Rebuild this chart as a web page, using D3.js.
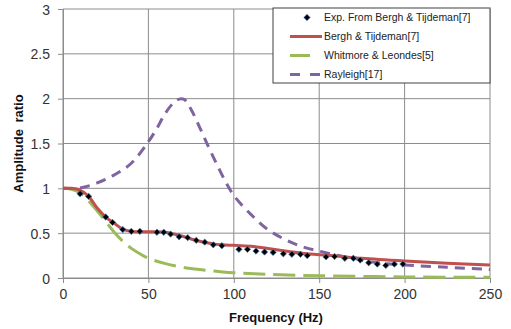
<!DOCTYPE html>
<html>
<head>
<meta charset="utf-8">
<script src="https://cdn.jsdelivr.net/npm/d3@7"></script>
<style>
  body { margin: 0; background: #fff; }
  svg { display: block; font-family: "Liberation Sans", Arial, sans-serif; }
</style>
</head>
<body>
<svg id="chart"></svg>
<script>
// measured points (Bergh & Tijdeman experiment)
const expFreq = [10, 15, 25, 29, 35, 40, 45, 55, 59, 63, 68, 73, 78, 83, 88, 93, 103, 108, 113, 118, 123, 129, 134, 139, 143, 154, 159, 165, 170, 174, 179, 184, 189, 194, 199];
const expAmp = [0.94, 0.91, 0.68, 0.62, 0.54, 0.52, 0.52, 0.51, 0.51, 0.49, 0.46, 0.45, 0.42, 0.40, 0.37, 0.36, 0.32, 0.32, 0.30, 0.29, 0.285, 0.27, 0.265, 0.265, 0.25, 0.235, 0.24, 0.22, 0.22, 0.20, 0.17, 0.155, 0.14, 0.155, 0.155];

const berghFreq = [0, 5, 10, 15, 20, 25, 30, 35, 40, 45, 50, 55, 60, 65, 70, 75, 80, 85, 90, 95, 100, 110, 120, 130, 140, 150, 160, 175, 200, 225, 250];
const berghAmp = [1.0, 1.0, 0.98, 0.91, 0.78, 0.68, 0.61, 0.545, 0.52, 0.515, 0.515, 0.515, 0.51, 0.49, 0.465, 0.435, 0.41, 0.39, 0.375, 0.368, 0.365, 0.355, 0.33, 0.30, 0.275, 0.26, 0.245, 0.22, 0.19, 0.165, 0.145];

const whitFreq = [0, 5, 10, 15, 20, 25, 30, 35, 40, 45, 50, 60, 70, 80, 90, 100, 120, 150, 200, 250];
const whitAmp = [1.0, 0.99, 0.95, 0.86, 0.75, 0.63, 0.51, 0.41, 0.33, 0.27, 0.22, 0.16, 0.12, 0.094, 0.075, 0.058, 0.04, 0.025, 0.012, 0.007];

const rayFreq = [0, 10, 20, 30, 40, 50, 55, 60, 65, 68, 71, 75, 80, 85, 90, 95, 100, 110, 120, 130, 140, 150, 160, 170, 180, 190, 200, 225, 250];
const rayAmp = [1.0, 1.005, 1.06, 1.15, 1.28, 1.52, 1.67, 1.84, 1.96, 1.995, 1.99, 1.88, 1.68, 1.47, 1.27, 1.08, 0.92, 0.71, 0.54, 0.43, 0.35, 0.30, 0.255, 0.22, 0.18, 0.16, 0.145, 0.12, 0.095];

const xTicks = [0, 50, 100, 150, 200, 250];
const yTicks = [0, 0.5, 1, 1.5, 2, 2.5, 3];

const width = 511, height = 329;
const margin = { left: 63, right: 21, top: 9, bottom: 51 };

const svg = d3.select('#chart').attr('width', width).attr('height', height);

const x = d3.scaleLinear().domain([0, 250]).range([margin.left, width - margin.right]);
const y = d3.scaleLinear().domain([0, 3]).range([height - margin.bottom, margin.top]);

const gridColor = '#8c8c8c';

// grid
svg.append('g').selectAll('line')
  .data(xTicks)
  .enter()
  .append('line')
  .attr('x1', d => x(d)).attr('x2', d => x(d))
  .attr('y1', y(0)).attr('y2', y(3))
  .attr('stroke', gridColor).attr('stroke-width', 1);

svg.append('g').selectAll('line')
  .data(yTicks)
  .enter()
  .append('line')
  .attr('x1', x(0)).attr('x2', x(250))
  .attr('y1', d => y(d)).attr('y2', d => y(d))
  .attr('stroke', gridColor).attr('stroke-width', 1);

// axes
const xAxis = svg.append('g')
  .attr('transform', `translate(0,${y(0)})`)
  .call(d3.axisBottom(x).tickValues(xTicks).tickSize(5).tickPadding(6).tickFormat(d3.format('')));
const yAxis = svg.append('g')
  .attr('transform', `translate(${x(0)},0)`)
  .call(d3.axisLeft(y).tickValues(yTicks).tickSize(5).tickPadding(8).tickFormat(d3.format('')));

[xAxis, yAxis].forEach(a => {
  a.select('.domain').attr('stroke', gridColor);
  a.selectAll('.tick line').attr('stroke', gridColor);
  a.selectAll('.tick text').attr('fill', '#333').attr('font-size', 14)
    .attr('font-family', '"Liberation Sans", Arial, sans-serif');
});
yAxis.selectAll('.tick text').attr('dy', '0.36em');

// axis titles
svg.append('text')
  .attr('x', 276).attr('y', 322)
  .attr('text-anchor', 'middle')
  .attr('font-size', 13).attr('font-weight', 'bold').attr('fill', '#111')
  .text('Frequency (Hz)');

svg.append('text')
  .attr('transform', `translate(23,${(y(0) + y(3)) / 2}) rotate(-90)`)
  .attr('text-anchor', 'middle')
  .attr('font-size', 13).attr('font-weight', 'bold').attr('fill', '#111')
  .attr('word-spacing', 3)
  .text('Amplitude ratio');

// lines
const line = d3.line().x(d => x(d[0])).y(d => y(d[1])).curve(d3.curveCatmullRom);

const series = [
  { fx: whitFreq, fy: whitAmp, color: '#9BBB59', dash: '22,8' },
  { fx: rayFreq, fy: rayAmp, color: '#8064A2', dash: '10,7' },
  { fx: berghFreq, fy: berghAmp, color: '#C0504D', dash: null }
];

series.forEach(s => {
  svg.append('path')
    .datum(d3.zip(s.fx, s.fy))
    .attr('d', line)
    .attr('fill', 'none')
    .attr('stroke', s.color)
    .attr('stroke-width', 3)
    .attr('stroke-dasharray', s.dash);
});

// experimental markers (square turned 45deg)
const diamond = d3.symbol().type(d3.symbolSquare).size(20);
svg.append('g').selectAll('path')
  .data(d3.zip(expFreq, expAmp))
  .enter()
  .append('path')
  .attr('d', diamond)
  .attr('transform', d => `translate(${x(d[0])},${y(d[1])}) rotate(45)`)
  .attr('fill', '#000')
  .attr('stroke', '#4a7ab5')
  .attr('stroke-width', 0.7);

// legend
const legend = svg.append('g');
legend.append('rect')
  .attr('x', 273).attr('y', 8).attr('width', 217).attr('height', 75)
  .attr('fill', '#fff').attr('stroke', '#404040').attr('stroke-width', 1);

const legendItems = [
  { label: 'Exp. From Bergh & Tijdeman[7]', type: 'marker' },
  { label: 'Bergh & Tijdeman[7]', color: '#C0504D', dash: null },
  { label: 'Whitmore & Leondes[5]', color: '#9BBB59', dash: '20,12' },
  { label: 'Rayleigh[17]', color: '#8064A2', dash: '10,10' }
];

legendItems.forEach((it, i) => {
  const cy = 17.5 + i * 19;
  if (it.type === 'marker') {
    legend.append('path')
      .attr('d', diamond)
      .attr('transform', `translate(307,${cy}) rotate(45)`)
      .attr('fill', '#000').attr('stroke', '#4a7ab5').attr('stroke-width', 0.7);
  } else {
    legend.append('line')
      .attr('x1', 290).attr('x2', 322).attr('y1', cy).attr('y2', cy)
      .attr('stroke', it.color).attr('stroke-width', 3)
      .attr('stroke-dasharray', it.dash);
  }
  legend.append('text')
    .attr('x', 324).attr('y', cy).attr('dy', '0.35em')
    .attr('font-size', 10.5).attr('fill', '#222')
    .text(it.label);
});
</script>
</body>
</html>
